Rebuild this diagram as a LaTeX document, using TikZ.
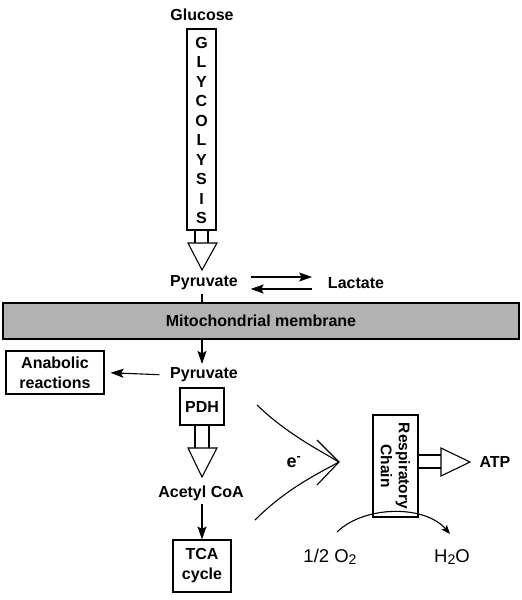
\documentclass[tikz,border=0pt]{standalone}
\usepackage{fontspec}
\setmainfont{Liberation Sans}
\usetikzlibrary{arrows.meta}

\newcommand{\chemsub}[1]{\raisebox{-2.5pt}{\fontsize{14}{14}\selectfont #1}}

\begin{document}
\begin{tikzpicture}[x=1pt, y=-1pt, line width=1.1pt,
    font=\fontsize{16}{20}\selectfont\bfseries,
    box/.style={draw, inner sep=2pt, align=center},
    flow/.style={-{Stealth[length=13pt, width=9pt, inset=2.5pt]}},
    chem/.style={font=\fontsize{18.5}{22}\selectfont}]
  \useasboundingbox (0,0) rectangle (522,600);
  % glicolise
  \node (glucose) at (202,15) {Glucose};
  \draw (187,29) rectangle (216,230);
  \foreach \l [count=\i] in {G,L,Y,C,O,L,Y,S,I,S}
    \node (gly\i) at (201.5,{43+19.44*(\i-1)}) {\l};
  \draw (195,230) -- (195,243) (208,230) -- (208,243);
  \draw (188,243) -- (217,243) -- (202,270) -- cycle;
  % piruvato e lactato
  \node (pyr) at (204,283) {Pyruvate};
  \node (lact) at (356,283) {Lactate};
  \draw[flow, shorten <=9pt, shorten >=12pt]
    ([yshift=6pt]pyr.east) -- ([yshift=6pt]lact.west);
  \draw[flow, shorten <=12pt, shorten >=9pt]
    ([yshift=-6pt]lact.west) -- ([yshift=-6pt]pyr.east);
  % membrana
  \node[draw, line width=1.4pt, fill=black!30, minimum width=516pt,
    minimum height=36pt, inner sep=0pt] (memb) at (261,321)
    {Mitochondrial membrane};
  \draw (pyr.south -| 202,0) -- (memb.north -| 202,0);
  % dentro da mitocondria
  \node (pyrm) at (204,375) {Pyruvate};
  \draw[flow] (memb.south -| 202,0) -- (pyrm.north -| 202,0);
  \node[box, minimum width=98pt, minimum height=43pt] (anab) at (55,372.5)
    {Anabolic\\reactions};
  \draw[flow, shorten <=7pt, shorten >=6pt] (pyrm.west) -- (anab.east);
  \node[box, minimum width=44pt, minimum height=37pt] (pdh) at (202,406.5) {PDH};
  \draw (195,425) -- (195,448) (209,425) -- (209,448);
  \draw (188,448) -- (217,448) -- (202,477) -- cycle;
  \node (acoa) at (201,493) {Acetyl CoA};
  \node[box, minimum width=58pt, minimum height=52pt] (tca) at (202,566)
    {TCA\\cycle};
  \draw[flow] (acoa.south -| 202,0) -- (tca.north);
  % eletrons
  \coordinate (tip) at (339,462);
  \coordinate (efrom1) at (257,405);
  \coordinate (efrom2) at (255,520);
  \draw (efrom1) .. controls (285,432) and (315,448) .. (tip);
  \draw (efrom2) .. controls (285,490) and (315,475) .. (tip);
  \draw (317,440) -- (tip) -- (317,485);
  \node[font=\fontsize{18}{20}\selectfont\bfseries] (elec) at (294,462)
    {e\textsuperscript{-}};
  % cadeia respiratoria
  \node[draw, rotate=-90, minimum width=102pt, minimum height=45pt,
    inner sep=0pt, align=center, font=\fontsize{15.5}{18}\selectfont\bfseries]
    (resp) at (395.5,466) {Respiratory\\Chain};
  \draw (418,455) -- (441,455) (418,468) -- (441,468);
  \draw (441,448) -- (470,462) -- (441,476) -- cycle;
  \node (atp) at (495,462) {ATP};
  % oxigenio
  \node[chem] (oxy) at (330,557) {1/2 O\chemsub{2}};
  \node[chem] (water) at (452,557) {H\chemsub{2}O};
  \coordinate (oin) at (337,532);
  \coordinate (wout) at (450,534);
  \draw[-{Stealth[length=9pt, width=7pt, inset=2pt]}]
    (oin) .. controls (365,505) and (425,505) .. (wout);
\end{tikzpicture}
\end{document}
